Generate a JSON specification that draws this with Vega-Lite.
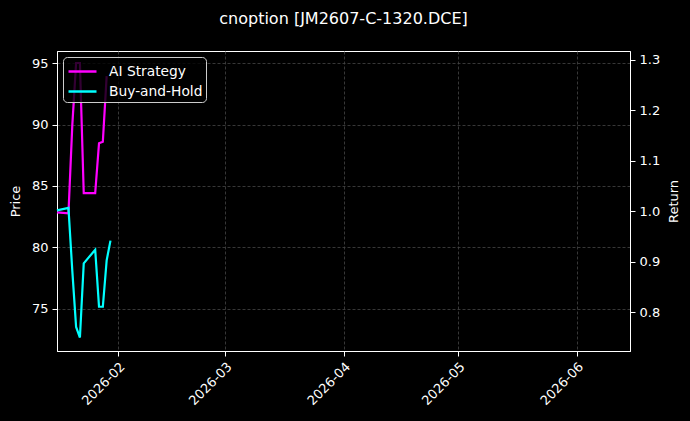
{
  "$schema": "https://vega.github.io/schema/vega-lite/v6.json",
  "background": "#000000",
  "autosize": "none",
  "width": 573,
  "height": 300,
  "padding": {"left": 57, "top": 51, "right": 60, "bottom": 70},
  "title": {
    "text": "cnoption [JM2607-C-1320.DCE]",
    "color": "#ffffff",
    "font": "DejaVu Sans",
    "fontSize": 16,
    "fontWeight": "normal",
    "anchor": "middle",
    "offset": 24
  },
  "data": {
    "values": [
      {"date": "2026-01-16", "series": "AI Strategy", "ret": 0.998},
      {"date": "2026-01-19", "series": "AI Strategy", "ret": 0.996},
      {"date": "2026-01-20", "series": "AI Strategy", "ret": 1.17},
      {"date": "2026-01-21", "series": "AI Strategy", "ret": 1.294},
      {"date": "2026-01-22", "series": "AI Strategy", "ret": 1.294},
      {"date": "2026-01-23", "series": "AI Strategy", "ret": 1.036},
      {"date": "2026-01-26", "series": "AI Strategy", "ret": 1.036},
      {"date": "2026-01-27", "series": "AI Strategy", "ret": 1.135},
      {"date": "2026-01-28", "series": "AI Strategy", "ret": 1.138},
      {"date": "2026-01-29", "series": "AI Strategy", "ret": 1.268},
      {"date": "2026-01-16", "series": "Buy-and-Hold", "ret": 1.002},
      {"date": "2026-01-19", "series": "Buy-and-Hold", "ret": 1.007},
      {"date": "2026-01-20", "series": "Buy-and-Hold", "ret": 0.883},
      {"date": "2026-01-21", "series": "Buy-and-Hold", "ret": 0.771},
      {"date": "2026-01-22", "series": "Buy-and-Hold", "ret": 0.75},
      {"date": "2026-01-23", "series": "Buy-and-Hold", "ret": 0.897},
      {"date": "2026-01-26", "series": "Buy-and-Hold", "ret": 0.924},
      {"date": "2026-01-27", "series": "Buy-and-Hold", "ret": 0.811},
      {"date": "2026-01-28", "series": "Buy-and-Hold", "ret": 0.811},
      {"date": "2026-01-29", "series": "Buy-and-Hold", "ret": 0.903},
      {"date": "2026-01-30", "series": "Buy-and-Hold", "ret": 0.942}
    ]
  },
  "layer": [
    {
      "mark": {"type": "rule", "opacity": 0},
      "encoding": {
        "y": {
          "datum": 80,
          "type": "quantitative",
          "scale": {"domain": [71.55, 96.0], "nice": false, "zero": false},
          "axis": {"title": "Price", "orient": "left", "values": [75, 80, 85, 90, 95], "titlePadding": 9}
        }
      }
    },
    {
      "mark": {"type": "line", "strokeWidth": 2.2},
      "encoding": {
        "x": {
          "field": "date",
          "type": "temporal",
          "scale": {
            "type": "utc",
            "domain": [
              {"year": 2026, "month": 1, "date": 16, "utc": true},
              {"year": 2026, "month": 6, "date": 15, "utc": true}
            ]
          },
          "axis": {
            "title": null,
            "format": "%Y-%m",
            "tickCount": "month",
            "labelAngle": -45,
            "labelAlign": "right",
            "labelBaseline": "top",
            "labelFlush": false,
            "labelOverlap": false
          }
        },
        "y": {
          "field": "ret",
          "type": "quantitative",
          "scale": {"domain": [0.7233, 1.3178], "nice": false, "zero": false},
          "axis": {"title": "Return", "orient": "right", "values": [0.8, 0.9, 1.0, 1.1, 1.2, 1.3], "format": ".1f", "titlePadding": 8, "titleAngle": 270, "titleBaseline": "top"}
        },
        "color": {
          "field": "series",
          "type": "nominal",
          "scale": {"domain": ["AI Strategy", "Buy-and-Hold"], "range": ["#ff00ff", "#00ffff"]},
          "legend": {"title": null, "orient": "top-left", "offset": 6}
        }
      }
    }
  ],
  "resolve": {"scale": {"y": "independent"}},
  "config": {
    "font": "DejaVu Sans",
    "view": {"stroke": "#ffffff", "strokeWidth": 1},
    "axis": {
      "domainColor": "#ffffff",
      "tickColor": "#ffffff",
      "labelColor": "#ffffff",
      "titleColor": "#ffffff",
      "labelFont": "DejaVu Sans",
      "titleFont": "DejaVu Sans",
      "labelFontSize": 13,
      "titleFontSize": 13,
      "titleFontWeight": "normal",
      "tickSize": 5,
      "labelPadding": 4,
      "grid": true,
      "gridColor": "#454545",
      "gridDash": [3, 2],
      "gridWidth": 0.8
    },
    "legend": {
      "fillColor": "rgba(0,0,0,0.8)",
      "strokeColor": "#cccccc",
      "cornerRadius": 4,
      "padding": 3,
      "symbolType": "M-1.4,0H1.4",
      "symbolSize": 400,
      "symbolOffset": 5,
      "symbolStrokeWidth": 2.5,
      "labelFont": "DejaVu Sans",
      "labelFontSize": 13.8,
      "labelColor": "#ffffff",
      "labelOffset": 15,
      "rowPadding": 1
    }
  }
}
